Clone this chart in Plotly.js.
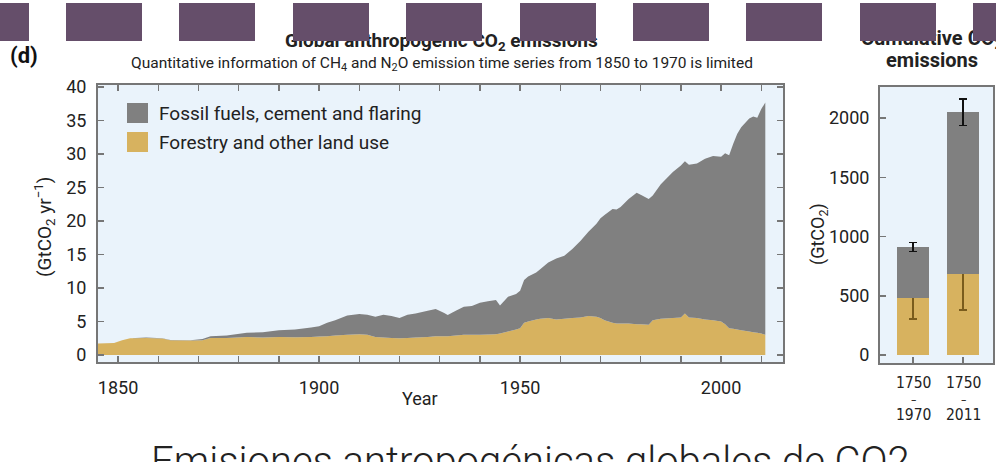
<!DOCTYPE html>
<html><head><meta charset="utf-8">
<script src="https://cdn.plot.ly/plotly-3.0.1.min.js"></script>
<style>html,body{margin:0;padding:0;background:#fff;} #chart{width:996px;height:462px;}</style>
</head><body><div id="chart"></div>
<script>
// Annual global anthropogenic CO2 emissions (GtCO2/yr)
const years = [1845,1849,1851,1853,1857,1861,1863,1868,1871,1873,1877,1882,1886,1890,1894,1898,1900,1902,1904,1907,1910,1912,1914,1916,1918,1920,1922,1924,1927,1929,1931,1932,1934,1936,1938,1940,1942,1944,1945,1947,1949,1950,1951,1952,1954,1955,1957,1959,1961,1963,1965,1967,1969,1970,1971,1973,1974,1975,1977,1979,1980,1982,1983,1985,1988,1990,1991,1992,1994,1996,1998,2000,2001,2002,2003,2004,2005,2007,2008,2009,2010,2011];
const foluEmissions = [1.7,1.8,2.2,2.5,2.55,2.45,2.2,2.15,2.2,2.55,2.55,2.7,2.6,2.7,2.65,2.7,2.75,2.8,2.9,3.0,3.1,3.0,2.7,2.6,2.55,2.5,2.55,2.6,2.7,2.8,2.8,2.8,2.9,3.0,3.0,3.0,3.05,3.1,3.2,3.5,3.8,4.0,4.8,5.0,5.3,5.4,5.5,5.3,5.4,5.5,5.6,5.8,5.7,5.5,5.2,4.8,4.7,4.7,4.7,4.6,4.6,4.5,5.2,5.4,5.5,5.6,6.2,5.6,5.5,5.3,5.2,5.0,4.6,4.0,3.9,3.8,3.7,3.5,3.4,3.3,3.2,3.0];
const fossilEmissions = [0,0,0,0,0.05,0.05,0.05,0.05,0.2,0.25,0.35,0.6,0.8,1.0,1.15,1.4,1.55,2.0,2.3,2.9,3.0,3.0,3.0,3.4,3.25,3.0,3.45,3.6,3.9,4.05,3.5,3.15,3.7,4.2,4.3,4.8,4.95,5.1,4.2,5.2,5.3,5.6,6.4,6.7,7.0,7.4,8.3,9.1,9.4,10.3,11.4,12.6,13.9,14.9,15.7,17.0,17.0,17.4,18.6,19.6,19.3,18.8,18.6,20.1,21.8,22.7,22.7,22.8,23.1,24.0,24.5,24.6,25.5,25.8,27.6,29.2,30.3,31.8,32.2,32.1,33.5,34.7];
const seriesNames = ['Fossil fuels, cement and flaring', 'Forestry and other land use'];
const xTickYears = [1850,1860,1870,1880,1890,1900,1910,1920,1930,1940,1950,1960,1970,1980,1990,2000,2010];
const xTickLabels = ['1850','','','','','1900','','','','','1950','','','','','2000',''];
const yTickValues = [0,5,10,15,20,25,30,35,40];
// Cumulative emissions (GtCO2)
const periodStart = ['1750','1750'];
const periodEnd = ['1970','2011'];
const periods = ['1750–1970','1750–2011'];
const cumFolu = [485, 680];
const cumFoluErr = [180, 300];
const cumFossil = [425, 1370];
const cumFossilErr = [38, 112];
const cumTickValues = [0,500,1000,1500,2000];

const GOLD = '#d7b25f', GRAY = '#808080', BG = '#eaf3fb', FRAME = '#767676', PURPLE = '#654e6a';
const W = 996, H = 462;
const px = x => x / W, py = y => 1 - y / H;
const FONT = 'Roboto, "Liberation Sans", sans-serif';
const NARROW = '"Liberation Sans Narrow", "DejaVu Sans Condensed", Roboto, sans-serif';

const traces = [
  {x: years, y: foluEmissions, name: seriesNames[1], type: 'scatter', mode: 'none',
   stackgroup: 'em', fillcolor: GOLD, hoverinfo: 'x+y'},
  {x: years, y: fossilEmissions, name: seriesNames[0], type: 'scatter', mode: 'none',
   stackgroup: 'em', fillcolor: GRAY, hoverinfo: 'x+y'},
  {x: periods, y: cumFolu, name: seriesNames[1], type: 'bar', xaxis: 'x2', yaxis: 'y2',
   width: 0.64, marker: {color: GOLD, line: {width: 0}},
   error_y: {type: 'data', array: cumFoluErr, visible: true, color: '#7a5c1c', thickness: 1.5, width: 4}},
  {x: periods, y: cumFossil, name: seriesNames[0], type: 'bar', xaxis: 'x2', yaxis: 'y2',
   width: 0.64, marker: {color: GRAY, line: {width: 0}},
   error_y: {type: 'data', array: cumFossilErr, visible: true, color: '#111', thickness: 1.5, width: 4}}
];

const axisCommon = {
  showline: true, linecolor: FRAME, linewidth: 2, showgrid: false, zeroline: false,
  ticks: 'inside', ticklen: 6, tickwidth: 1.5, tickcolor: FRAME,
  tickfont: {family: FONT, size: 18, color: '#222'}
};

const annotations = [];
function ann(o) { annotations.push(Object.assign({showarrow: false, xref: 'paper', yref: 'paper'}, o)); }

ann({x: px(8), y: py(55), xanchor: 'left', yanchor: 'middle', text: '<b>(d)</b>', font: {family: FONT, size: 22, color: '#111'}});
ann({x: px(441.5), y: py(41.5), xanchor: 'center', yanchor: 'middle', text: '<b>Global anthropogenic CO<sub>2</sub> emissions</b>', font: {family: FONT, size: 19, color: '#222'}});
ann({x: px(441.5), y: py(63.5), xanchor: 'center', yanchor: 'middle', text: 'Quantitative information of CH<sub>4</sub> and N<sub>2</sub>O emission time series from 1850 to 1970 is limited', font: {family: FONT, size: 15.5, color: '#222'}});
ann({x: px(931.5), y: py(38.5), xanchor: 'center', yanchor: 'middle', text: '<b>Cumulative CO<sub>2</sub></b>', font: {family: FONT, size: 20, color: '#222'}});
ann({x: px(931.5), y: py(59.5), xanchor: 'center', yanchor: 'middle', text: '<b>emissions</b>', font: {family: FONT, size: 20, color: '#222'}});
ann({x: px(44), y: py(227), xanchor: 'center', yanchor: 'middle', textangle: -90, text: '(GtCO<sub>2</sub> yr<sup>−1</sup>)', font: {family: FONT, size: 19, color: '#222'}});
ann({x: px(819), y: py(234), xanchor: 'center', yanchor: 'middle', textangle: -90, text: '(GtCO<sub>2</sub>)', font: {family: FONT, size: 18, color: '#222'}});
ann({x: px(420), y: py(398), xanchor: 'center', yanchor: 'middle', text: 'Year', font: {family: FONT, size: 18, color: '#222'}});
ann({x: px(157), y: py(113), xanchor: 'left', yanchor: 'middle', text: seriesNames[0], font: {family: FONT, size: 19, color: '#222'}});
ann({x: px(157), y: py(142.5), xanchor: 'left', yanchor: 'middle', text: seriesNames[1], font: {family: FONT, size: 19, color: '#222'}});
periods.forEach((p, i) => {
  const f = {family: NARROW, size: 15.5, color: '#222'};
  annotations.push({xref: 'x2', yref: 'paper', x: p, y: py(383), text: periodStart[i], showarrow: false, xanchor: 'center', yanchor: 'middle', font: f});
  annotations.push({xref: 'x2', yref: 'paper', x: p, y: py(399.5), text: '–', showarrow: false, xanchor: 'center', yanchor: 'middle', font: {family: NARROW, size: 12, color: '#222'}});
  annotations.push({xref: 'x2', yref: 'paper', x: p, y: py(415), text: periodEnd[i], showarrow: false, xanchor: 'center', yanchor: 'middle', font: f});
});
ann({x: px(530), y: py(461), xanchor: 'center', yanchor: 'middle', text: 'Emisiones antropogénicas globales de CO2', font: {family: FONT, size: 40, color: '#222', weight: 300}});
// decorative purple header blocks (drawn last so they sit on top of the titles)
for (let k = 0; k < 10; k++) {
  const x0 = -47.4 + 113.4 * k;
  ann({x: px(x0), y: py(3), xanchor: 'left', yanchor: 'top', text: ' ', width: 76, height: 38,
       bgcolor: PURPLE, borderpad: 0, borderwidth: 0});
}

const layout = {
  width: W, height: H, margin: {l: 0, r: 0, t: 0, b: 0},
  paper_bgcolor: '#fff', plot_bgcolor: BG, showlegend: false, barmode: 'stack',
  xaxis: Object.assign({}, axisCommon, {domain: [px(98), px(783)], range: [1845, 2015.4],
    tickmode: 'array', tickvals: xTickYears, ticktext: xTickLabels, mirror: 'ticks', ticklabelstandoff: 8}),
  yaxis: Object.assign({}, axisCommon, {domain: [py(362), py(85)], range: [-1.05, 40.3],
    tickmode: 'array', tickvals: yTickValues, mirror: 'ticks', ticklabelstandoff: 6}),
  xaxis2: Object.assign({}, axisCommon, {domain: [px(880), px(993)], anchor: 'y2', type: 'category',
    range: [-0.66, 1.6], showticklabels: false, mirror: true}),
  yaxis2: Object.assign({}, axisCommon, {domain: [py(363), py(87)], anchor: 'x2', range: [-67.5, 2261.6],
    tickmode: 'array', tickvals: cumTickValues, mirror: true, ticklabelstandoff: 5}),
  shapes: [
    {type: 'rect', xref: 'paper', yref: 'paper', x0: px(127), x1: px(148), y0: py(103), y1: py(123), fillcolor: GRAY, line: {width: 0}},
    {type: 'rect', xref: 'paper', yref: 'paper', x0: px(127), x1: px(148), y0: py(132), y1: py(152), fillcolor: GOLD, line: {width: 0}}
  ],
  annotations: annotations
};

Plotly.newPlot('chart', traces, layout, {displayModeBar: false, staticPlot: true});
</script>
</body></html>
